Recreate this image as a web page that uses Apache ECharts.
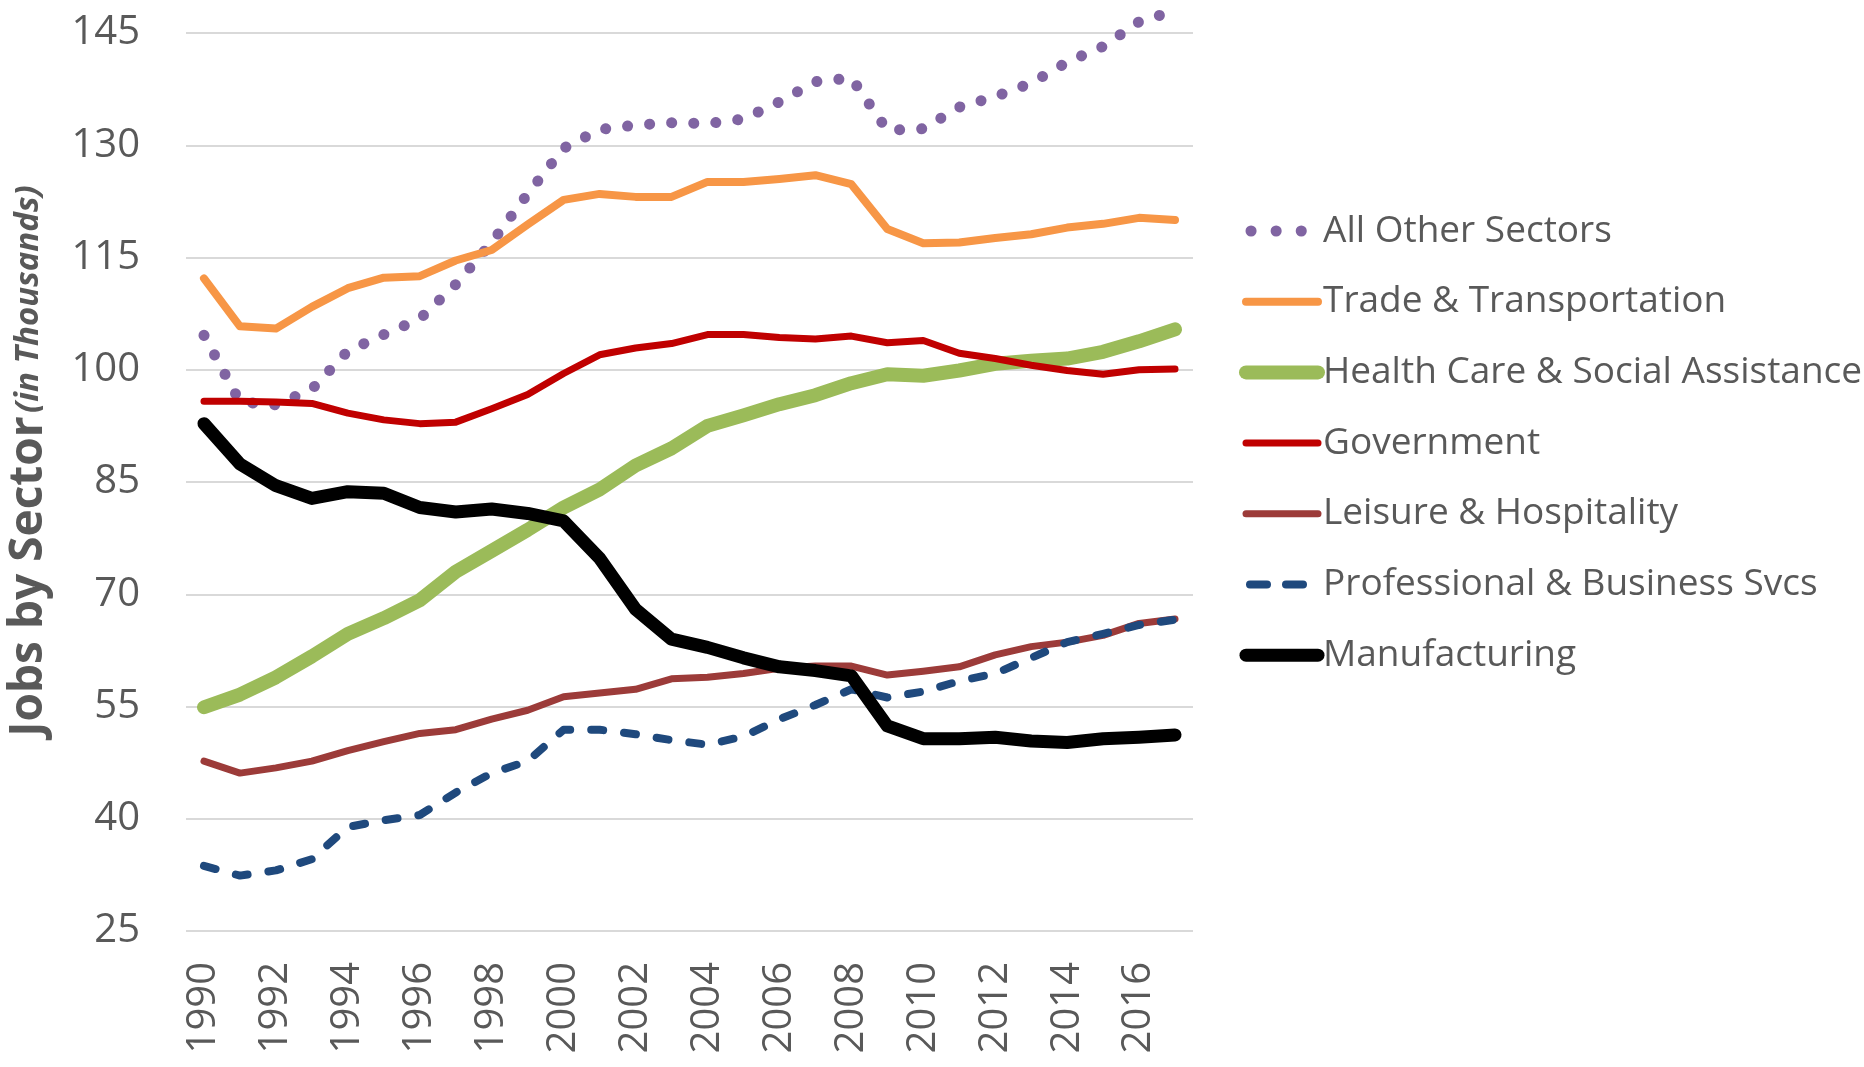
<!DOCTYPE html>
<html>
<head>
<meta charset="utf-8">
<script src="https://cdn.jsdelivr.net/npm/echarts@6/dist/echarts.min.js"></script>
<style>
html,body{margin:0;padding:0;background:#fff;}
#chart{width:1864px;height:1067px;}
</style>
</head>
<body>
<div id="chart"></div>
<script>
const years = ['1990','1991','1992','1993','1994','1995','1996','1997','1998','1999','2000','2001','2002','2003','2004','2005','2006','2007','2008','2009','2010','2011','2012','2013','2014','2015','2016','2017'];
const allOther = [104.6, 95.7, 95.3, 97.4, 102.5, 104.7, 106.8, 111.4, 117.0, 123.5, 129.6, 132.1, 132.7, 133.0, 132.9, 133.5, 135.8, 138.5, 139.0, 132.0, 132.2, 135.1, 136.5, 138.3, 141.1, 143.2, 146.5, 148.0];
const trade = [112.2, 105.8, 105.5, 108.4, 110.9, 112.3, 112.5, 114.6, 116.0, 119.4, 122.7, 123.5, 123.1, 123.1, 125.1, 125.1, 125.5, 126.0, 124.8, 118.8, 116.9, 117.0, 117.6, 118.1, 119.0, 119.5, 120.3, 120.0];
const health = [54.9, 56.6, 58.9, 61.7, 64.7, 66.8, 69.2, 73.0, 75.8, 78.6, 81.6, 84.0, 87.2, 89.5, 92.5, 93.9, 95.4, 96.6, 98.2, 99.4, 99.2, 99.9, 100.8, 101.2, 101.5, 102.4, 103.8, 105.4];
const government = [95.8, 95.8, 95.7, 95.5, 94.2, 93.3, 92.8, 93.0, 94.8, 96.7, 99.5, 102.0, 102.9, 103.5, 104.7, 104.7, 104.3, 104.1, 104.5, 103.6, 103.9, 102.2, 101.5, 100.6, 99.9, 99.4, 100.0, 100.1];
const leisure = [47.7, 46.1, 46.8, 47.7, 49.1, 50.3, 51.4, 51.9, 53.3, 54.5, 56.3, 56.8, 57.3, 58.7, 58.9, 59.4, 60.1, 60.4, 60.4, 59.2, 59.7, 60.3, 61.9, 63.0, 63.6, 64.5, 66.1, 66.7];
const professional = [33.7, 32.4, 33.1, 34.6, 38.9, 39.8, 40.5, 43.5, 46.1, 47.7, 51.9, 51.9, 51.3, 50.5, 49.9, 51.0, 53.3, 55.2, 57.3, 56.2, 57.0, 58.4, 59.4, 61.5, 63.6, 64.7, 65.9, 66.6];
const manufacturing = [92.8, 87.4, 84.5, 82.8, 83.7, 83.5, 81.6, 81.0, 81.4, 80.8, 79.8, 74.8, 68.0, 64.0, 62.9, 61.5, 60.3, 59.8, 59.1, 52.4, 50.7, 50.7, 50.9, 50.4, 50.2, 50.7, 50.9, 51.2];
const seriesNames = ['All Other Sectors','Trade & Transportation','Health Care & Social Assistance','Government','Leisure & Hospitality','Professional & Business Svcs','Manufacturing'];
const yTitleMain = 'Jobs by Sector';
const yTitleSub = '(in Thousands)';

const FONT = '"Open Sans", "Noto Sans", sans-serif';
const TXT = '#595959';

function lineSeries(name, data, color, width, type, extra) {
  return Object.assign({
    name: name,
    type: 'line',
    data: data,
    symbol: 'none',
    showSymbol: false,
    smooth: false,
    animation: false,
    lineStyle: { color: color, width: width, type: type || 'solid', cap: 'round', join: 'round' },
    itemStyle: { color: color },
    emphasis: { disabled: true }
  }, extra || {});
}

const chart = echarts.init(document.getElementById('chart'), null, { renderer: 'canvas' });
chart.setOption({
  backgroundColor: '#ffffff',
  animation: false,
  grid: { left: 186, right: 671, top: 33, bottom: 136, containLabel: false },
  xAxis: {
    type: 'category',
    data: years,
    boundaryGap: true,
    axisLine: { show: false },
    axisTick: { show: false },
    axisLabel: { interval: 1, rotate: 90, margin: 31, color: TXT, fontFamily: FONT, fontSize: 40 },
    splitLine: { show: false }
  },
  yAxis: {
    type: 'value',
    min: 25, max: 145, interval: 15,
    axisLine: { show: false },
    axisTick: { show: false },
    axisLabel: { margin: 46, color: TXT, fontFamily: FONT, fontSize: 40 },
    splitLine: { show: true, lineStyle: { color: '#D9D9D9', width: 2 } }
  },
  legend: {
    orient: 'vertical',
    left: 1239,
    top: 209,
    padding: 0,
    itemWidth: 72,
    itemHeight: 16,
    itemGap: 26.7,
    selectedMode: false,
    itemStyle: { opacity: 0 },
    textStyle: { color: TXT, fontFamily: FONT, fontSize: 37, lineHeight: 44 },
    lineStyle: { width: 'inherit' },
    data: [
      { name: seriesNames[0], lineStyle: { type: [0.1, 25], dashOffset: -5 } },
      { name: seriesNames[1] },
      { name: seriesNames[2] },
      { name: seriesNames[3] },
      { name: seriesNames[4] },
      { name: seriesNames[5], lineStyle: { type: [17, 19], dashOffset: -4 } },
      { name: seriesNames[6] }
    ]
  },
  graphic: [{
    type: 'text',
    x: 29, y: 461,
    rotation: Math.PI / 2,
    style: {
      text: '{a|' + yTitleMain + '} {b|' + yTitleSub + '}',
      align: 'center',
      verticalAlign: 'middle',
      rich: {
        a: { fontFamily: FONT, fontWeight: 'bold', fontSize: 46, fill: TXT },
        b: { fontFamily: FONT, fontWeight: 'bold', fontStyle: 'italic', fontSize: 33, fill: TXT }
      }
    }
  }],
  series: [
    lineSeries(seriesNames[0], allOther, '#8064A2', 11, [0.1, 22], { clip: false, z: 3 }),
    lineSeries(seriesNames[1], trade, '#F79646', 8),
    lineSeries(seriesNames[2], health, '#9BBB59', 14),
    lineSeries(seriesNames[3], government, '#C00000', 7),
    lineSeries(seriesNames[4], leisure, '#9C3B39', 7),
    lineSeries(seriesNames[5], professional, '#1F497D', 8, [12, 21]),
    lineSeries(seriesNames[6], manufacturing, '#000000', 13)
  ]
});
</script>
</body>
</html>
